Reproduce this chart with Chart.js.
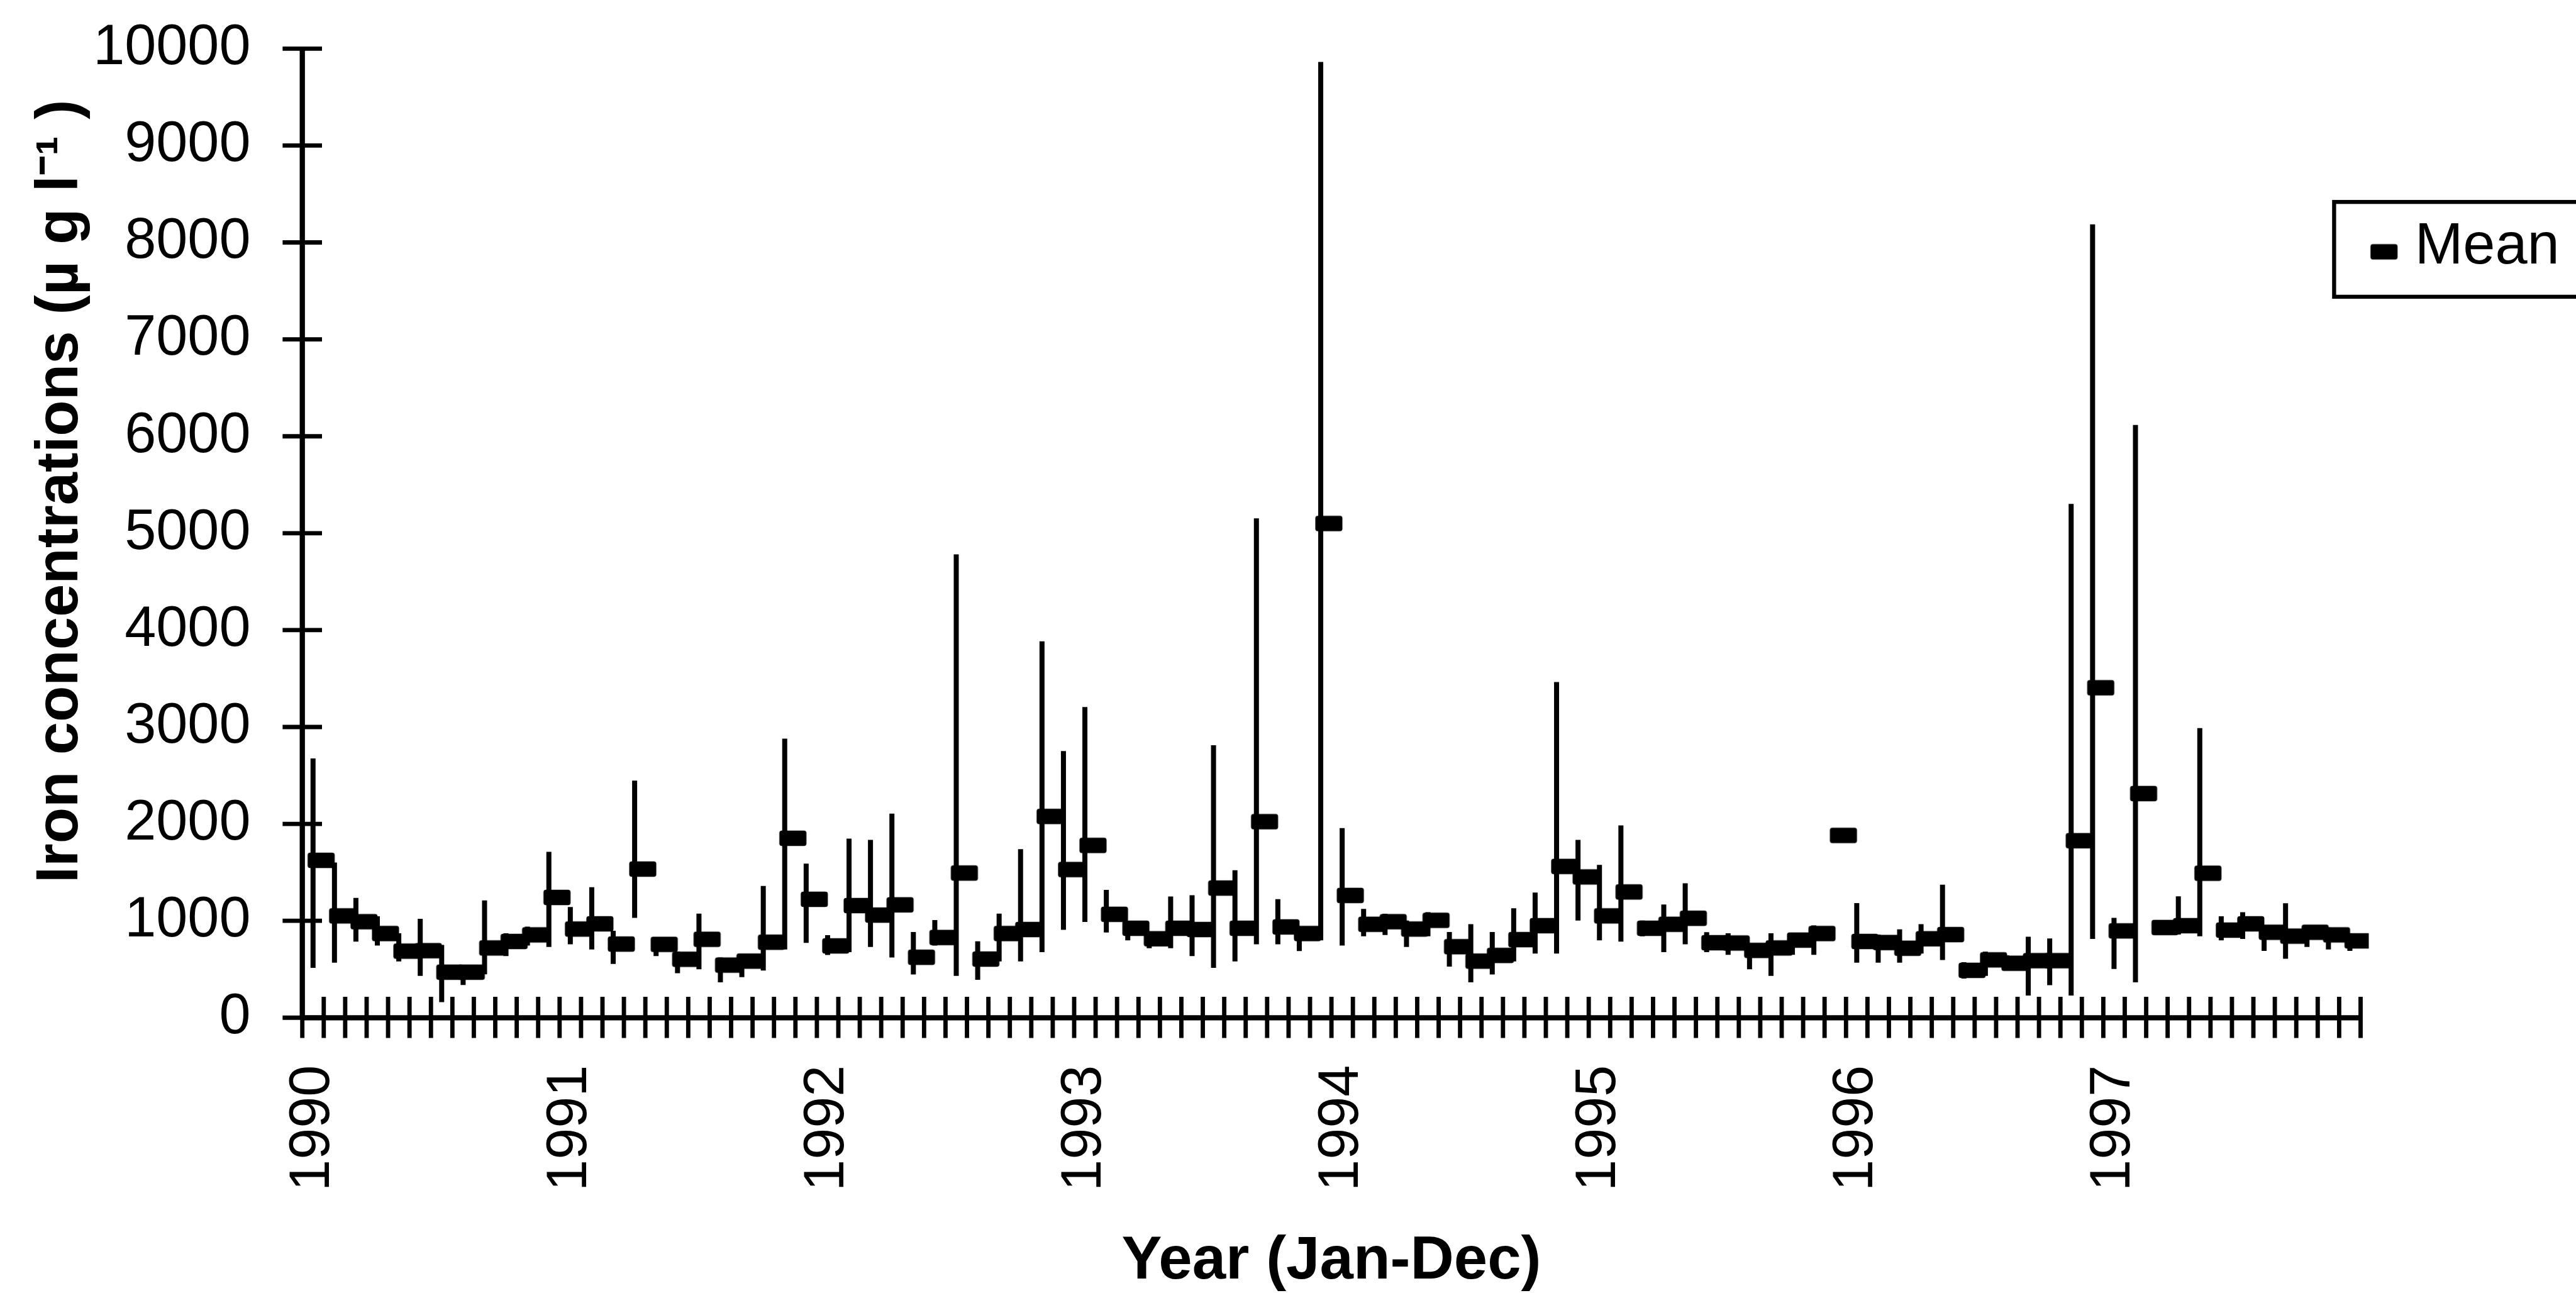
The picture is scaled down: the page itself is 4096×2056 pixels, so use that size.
<!DOCTYPE html>
<html>
<head>
<meta charset="utf-8">
<script src="https://cdn.jsdelivr.net/npm/chart.js@4.4.1/dist/chart.umd.min.js"></script>
<style>
  html, body { margin: 0; padding: 0; background: #fff; }
  #wrap { width: 4096px; height: 2056px; }
</style>
</head>
<body>
<div id="wrap"><canvas id="chart" width="4096" height="2056"></canvas></div>
<script>
// years on the axis, one category per month
const years = [1990, 1991, 1992, 1993, 1994, 1995, 1996, 1997]
const monthsPerYear = 12

// monthly mean iron concentration (ug/l), Jan..Dec per row
const meanValues = [
    1624, 1051, 991, 869, 687, 692, 470, 470, 720, 787, 855, 1241,
    915, 969, 760, 1534, 757, 603, 809, 543, 584, 779, 1852, 1222,
    741, 1157, 1059, 1165, 624, 828, 1493, 605, 869, 910, 2077, 1529,
    1778, 1067, 923, 815, 923, 910, 1338, 923, 2023, 937, 869, 5100,
    1262, 964, 991, 915, 1005, 733, 584, 643, 806, 950, 1561, 1453,
    1051, 1298, 923, 964, 1026, 774, 771, 695, 720, 801, 869, 1881,
    787, 776, 717, 815, 858, 489, 597, 562, 589, 589, 1827, 3405,
    896, 2313, 931, 950, 1491, 904, 969, 882, 842, 882, 855, 793
]

// monthly maximum
const highValues = [
    2674, 1600, 1235, 1045, 870, 1018, 750, 530, 1208, 869, 937, 1710,
    1140, 1344, 896, 2444, 828, 679, 1072, 620, 651, 1357, 2878, 1588,
    850, 1846, 1833, 2104, 882, 1005, 4780, 787, 1072, 1738, 3882, 2750,
    3204, 1317, 990, 880, 1249, 1262, 2810, 1520, 5150, 1222, 930, 9860,
    1955, 1121, 1070, 1000, 1086, 882, 964, 882, 1127, 1290, 3462, 1833,
    1575, 1982, 1000, 1167, 1385, 880, 870, 760, 869, 870, 950, null,
    1181, 855, 910, 964, 1371, 570, 679, 640, 834, 815, 5300, 8185,
    1029, 6115, 1000, 1250, 2987, 1045, 1086, 950, 1180, 950, 930, 870
]

// monthly minimum
const lowValues = [
    516, 570, 787, 747, 584, 434, 163, 340, 450, 638, 747, 733,
    760, 706, 557, 1032, 638, 462, 502, 367, 421, 489, 706, 774,
    650, 679, 733, 624, 448, 747, 434, 394, 584, 584, 679, 910,
    991, 882, 800, 720, 720, 638, 516, 584, 760, 760, 690, 801,
    747, 842, 855, 733, 842, 529, 367, 448, 584, 665, 665, 1005,
    801, 787, 842, 679, 760, 679, 652, 502, 434, 652, 652, null,
    570, 570, 570, 665, 597, 407, 434, 500, 231, 339, 231, 815,
    505, 367, 860, 860, 842, 801, 815, 692, 611, 733, 706, 692
]

const yTicks = [0, 1000, 2000, 3000, 4000, 5000, 6000, 7000, 8000, 9000, 10000]
const legendLabel = 'Mean'
const yTitle = 'Iron concentrations (\u00b5 g l\u207b\u00b9 )'
const xTitle = 'Year (Jan-Dec)'

const S = 0.979
const FONT = '"Liberation Sans", Arial, Helvetica, sans-serif'

const labels = []
years.forEach(y => {
    for (let m = 0; m < monthsPerYear; m++) labels.push(m === 0 ? String(y) : '')
})

const ranges = lowValues.map((lo, i) => lo === null ? null : [lo, highValues[i]])

// the mean marker: a short thick dash, sitting a little right of the range line
function makeDash() {
    const c = document.createElement('canvas')
    c.width = 76
    c.height = 28
    const g = c.getContext('2d')
    const w = 44 * S, h = 25 * S, cx = c.width / 2 + 13.2 * S, cy = c.height / 2
    g.fillStyle = '#000'
    g.beginPath()
    g.roundRect(cx - w / 2, cy - h / 2, w, h, 4)
    g.fill()
    return c
}
const dashImg = makeDash()

const noPad = scale => {
    scale.paddingTop = 0
    scale.paddingBottom = 0
    scale.paddingLeft = 0
    scale.paddingRight = 0
}

const framePlugin = {
    id: 'frame',
    afterDraw(chart) {
        const ctx = chart.ctx
        const xs = chart.scales.x
        const ys = chart.scales.y
        const area = chart.chartArea
        ctx.save()
        ctx.strokeStyle = '#000'
        ctx.lineCap = 'butt'

        // tick marks crossing the axes
        ctx.lineWidth = 7 * S
        ctx.beginPath()
        yTicks.forEach(v => {
            const py = ys.getPixelForValue(v)
            ctx.moveTo(area.left - 32 * S, py)
            ctx.lineTo(area.left + 32 * S, py)
        })
        for (let k = 0; k <= labels.length; k++) {
            const px = xs.getPixelForValue(k - 0.5)
            ctx.moveTo(px, area.bottom - 34 * S)
            ctx.lineTo(px, area.bottom + 33 * S)
        }
        ctx.stroke()

        // axis lines
        ctx.lineWidth = 8.5 * S
        ctx.beginPath()
        ctx.moveTo(area.left, ys.getPixelForValue(10000))
        ctx.lineTo(area.left, area.bottom)
        ctx.moveTo(area.left, area.bottom)
        ctx.lineTo(area.right, area.bottom)
        ctx.stroke()

        // y axis title
        ctx.fillStyle = '#000'
        ctx.font = 'bold ' + Math.round(96 * S) + 'px ' + FONT
        ctx.textAlign = 'center'
        ctx.textBaseline = 'middle'
        ctx.translate(99 * S, 798 * S)
        ctx.rotate(-Math.PI / 2)
        ctx.fillText(yTitle, 0, 0)
        ctx.restore()

        // legend box
        ctx.save()
        ctx.strokeStyle = '#000'
        ctx.lineWidth = 6.5 * S
        ctx.strokeRect(3791 * S, 328 * S, 500 * S, 154 * S)
        ctx.drawImage(dashImg, 3872 * S - 13.2 * S - dashImg.width / 2, 409 * S - dashImg.height / 2)
        ctx.fillStyle = '#000'
        ctx.font = Math.round(94 * S) + 'px ' + FONT
        ctx.textAlign = 'left'
        ctx.textBaseline = 'middle'
        ctx.fillText(legendLabel, 3922 * S, 402 * S)
        ctx.restore()
    }
}

new Chart(document.getElementById('chart').getContext('2d'), {
    type: 'bar',
    data: {
        labels: labels,
        datasets: [
            {
                type: 'line',
                label: legendLabel,
                data: meanValues,
                showLine: false,
                pointStyle: dashImg,
                pointRadius: 12,
                order: 0
            },
            {
                type: 'bar',
                label: 'Range',
                data: ranges,
                backgroundColor: '#000',
                borderWidth: 0,
                barThickness: 7.5 * S,
                order: 1
            }
        ]
    },
    options: {
        responsive: false,
        animation: false,
        devicePixelRatio: 1,
        events: [],
        layout: {
            padding: { left: 0, top: 79 * S, right: 4096 - 3834 * S, bottom: 0 }
        },
        plugins: {
            legend: { display: false },
            tooltip: { enabled: false }
        },
        scales: {
            x: {
                offset: true,
                grid: { display: false, drawTicks: false },
                border: { display: false },
                ticks: {
                    autoSkip: false,
                    minRotation: 90,
                    maxRotation: 90,
                    padding: 77 * S,
                    color: '#000',
                    font: { family: FONT, size: Math.round(92 * S) }
                },
                title: {
                    display: true,
                    text: xTitle,
                    color: '#000',
                    font: { family: FONT, size: Math.round(98 * S), weight: 'bold' },
                    padding: { top: 0, bottom: -8 }
                },
                afterFit(scale) {
                    scale.height = 2056 - 1653 * S
                    noPad(scale)
                }
            },
            y: {
                min: 0,
                max: 10000,
                grid: { display: false, drawTicks: false },
                border: { display: false },
                ticks: {
                    stepSize: 1000,
                    padding: 84 * S,
                    color: '#000',
                    font: { family: FONT, size: Math.round(92 * S) },
                    callback: v => String(v)
                },
                afterFit(scale) {
                    scale.width = 491 * S
                    noPad(scale)
                }
            }
        }
    },
    plugins: [framePlugin]
})
</script>
</body>
</html>
